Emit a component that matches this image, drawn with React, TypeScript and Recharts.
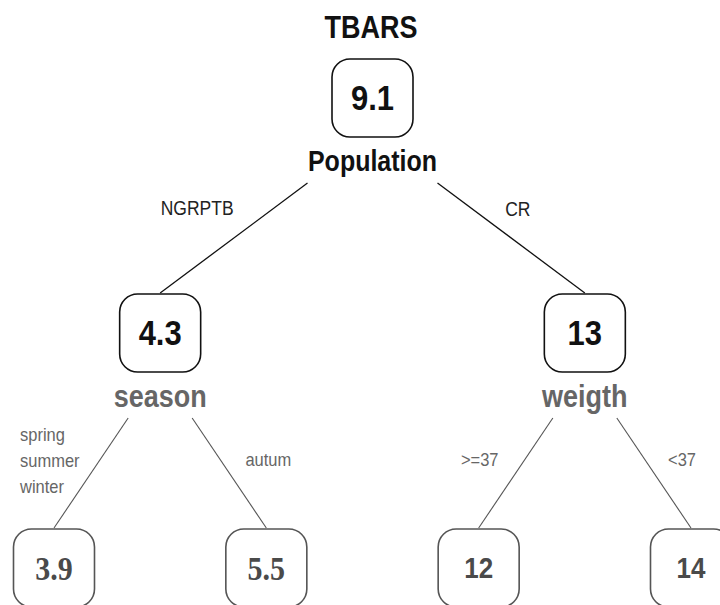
import React from 'react';
import { ScatterChart, Scatter, XAxis, YAxis, ReferenceLine } from 'recharts';

// ---- data ----
const title = 'TBARS';
const nodeValues = ['9.1', '4.3', '13', '3.9', '5.5', '12', '14'];
const nodeSplits = ['Population', 'season', 'weigth', '', '', '', ''];
const nodeParents = [-1, 0, 0, 1, 1, 2, 2];
const nodeSlot = [1.5, 0.5, 2.5, 0, 1, 2, 3];
const nodeDepth = [0, 1, 1, 2, 2, 2, 2];
const edgeLabels = ['', 'NGRPTB', 'CR', 'spring\nsummer\nwinter', 'autum', '>=37', '<37'];

// ---- layout / style ----
const W = 720;
const H = 605;
const MARGIN = { top: 98, bottom: 37, left: 54, right: 29 };
const PX_SLOT = (W - MARGIN.left - MARGIN.right) / 3;
const PX_DEPTH = (H - MARGIN.top - MARGIN.bottom) / 2;
const BOX_W = 81;
const BOX_H = 78;
const SY = 1.15;
const SANS = '"Liberation Sans", Arial, sans-serif';
const SERIF = '"Liberation Serif", "Times New Roman", serif';
// pixel offset of each incoming-edge label relative to its child node centre
const LABEL_OFF: Record<number, [number, number, string]> = {
  1: [37, -125, 'middle'],
  2: [-67, -124, 'middle'],
  3: [-34, -133, 'start'],
  4: [2, -108, 'middle'],
  5: [1, -108, 'middle'],
  6: [-9, -108, 'middle'],
};

const nodes = nodeValues.map((v, i) => ({
  id: i,
  x: nodeSlot[i],
  y: nodeDepth[i],
  value: v,
  split: nodeSplits[i],
  parent: nodeParents[i],
  edgeLabel: edgeLabels[i],
}));

const edges = nodes
  .filter((n) => n.parent >= 0)
  .map((n) => {
    const p = nodes[n.parent];
    const side = n.x < p.x ? -1 : 1;
    const startDx = (p.id === 0 ? 65 : 32) / PX_SLOT;
    return {
      key: n.id,
      root: p.id === 0,
      seg: [
        { x: p.x + side * startDx, y: p.y + 85 / PX_DEPTH },
        { x: n.x, y: n.y - 40 / PX_DEPTH },
      ],
    };
  });

const T = (props: any) => {
  const { x, y, children, ...rest } = props;
  return (
    <text
      transform={`translate(${x},${y}) scale(1,${SY})`}
      x={0}
      y={0}
      dominantBaseline="central"
      {...rest}
    >
      {children}
    </text>
  );
};

const NodeShape = (props: any) => {
  const { cx, cy, payload } = props;
  const leaf = payload.y === 2;
  const out: React.ReactNode[] = [];
  out.push(
    <rect
      key="b"
      x={cx - BOX_W / 2}
      y={cy - BOX_H / 2}
      width={BOX_W}
      height={BOX_H}
      rx={18}
      ry={18}
      fill="#fff"
      stroke={leaf ? '#555' : '#111'}
      strokeWidth={1.6}
    />
  );
  out.push(
    <T
      key="v"
      x={cx}
      y={cy}
      textAnchor="middle"
      fontFamily={leaf && payload.x < 2 ? SERIF : SANS}
      fontWeight="bold"
      fontSize={leaf ? (payload.x < 2 ? 30 : 26) : 31}
      fill={leaf ? '#4a4a4a' : '#111'}
    >
      {payload.value}
    </T>
  );
  if (payload.split) {
    out.push(
      <T
        key="s"
        x={cx}
        y={cy + 63}
        textAnchor="middle"
        fontFamily={SANS}
        fontWeight="bold"
        fontSize={payload.id === 0 ? 25 : 27}
        fill={payload.id === 0 ? '#111' : '#666'}
      >
        {payload.split}
      </T>
    );
  }
  if (payload.edgeLabel) {
    const [dx, dy, anchor] = LABEL_OFF[payload.id];
    const lines = payload.edgeLabel.split('\n');
    out.push(
      <T
        key="e"
        x={cx + dx}
        y={cy + dy}
        textAnchor={anchor}
        fontFamily={SANS}
        fontSize={payload.parent === 0 ? 17.5 : 16.5}
        fill={payload.parent === 0 ? '#222' : '#666'}
      >
        {lines.map((l: string, i: number) => (
          <tspan key={i} x={0} dy={i === 0 ? 0 : 26 / SY}>
            {l}
          </tspan>
        ))}
      </T>
    );
  }
  return <g>{out}</g>;
};

export default function App() {
  return (
    <div style={{ position: 'relative', width: W, height: H, background: '#fff' }}>
      <style>{'body{margin:0;}'}</style>
      <ScatterChart width={W} height={H} margin={MARGIN}>
        <XAxis type="number" dataKey="x" domain={[0, 3]} hide />
        <YAxis type="number" dataKey="y" domain={[0, 2]} reversed hide />
        {edges.map((e) => (
          <ReferenceLine
            key={e.key}
            segment={e.seg}
            ifOverflow="visible"
            stroke={e.root ? '#111' : '#555'}
            strokeWidth={e.root ? 1.3 : 1.1}
          />
        ))}
        <Scatter data={nodes} isAnimationActive={false} shape={NodeShape} />
      </ScatterChart>
      <svg
        width={W}
        height={50}
        style={{ position: 'absolute', left: 0, top: 0, pointerEvents: 'none' }}
      >
        <T x={371} y={27} textAnchor="middle" fontFamily={SANS} fontWeight="bold" fontSize={27} fill="#111">
          {title}
        </T>
      </svg>
    </div>
  );
}
